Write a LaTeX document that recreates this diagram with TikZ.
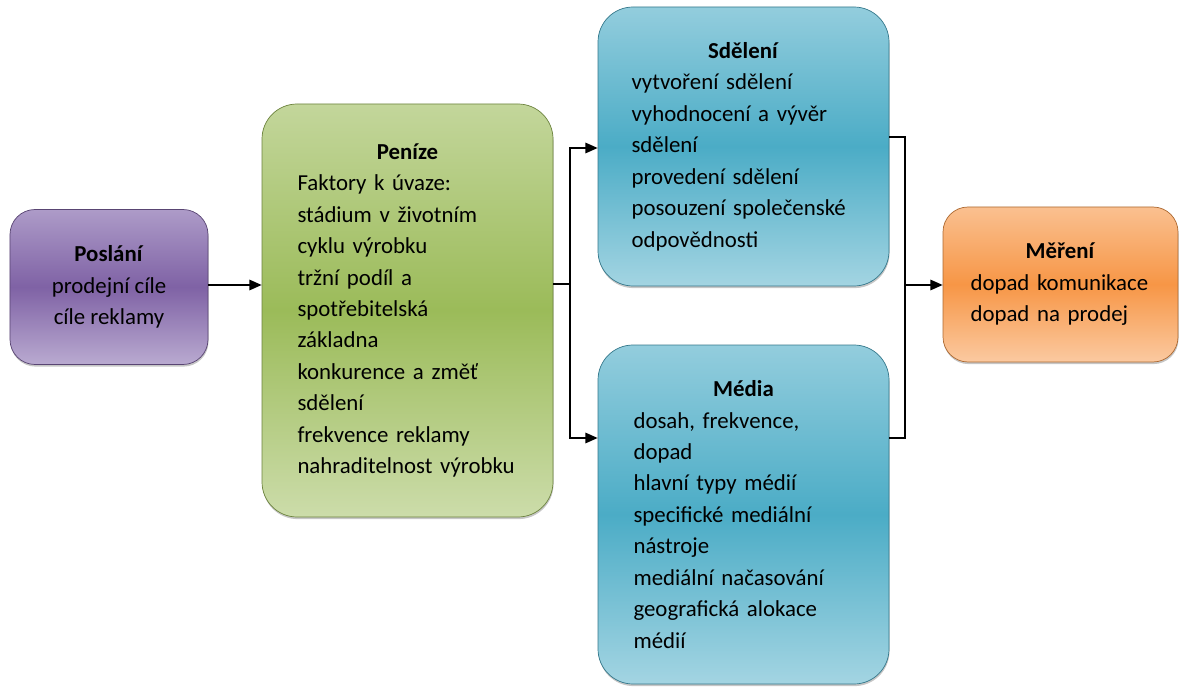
\documentclass[tikz,border=0pt]{standalone}
\usepackage{fontspec}
\setmainfont{Carlito}
\usetikzlibrary{arrows.meta,shadows}
\definecolor{lilaTop}{HTML}{AD9BC8}
\definecolor{lilaMid}{HTML}{7F62A5}
\definecolor{zelenaTop}{HTML}{C3D69B}
\definecolor{zelenaMid}{HTML}{9BBB59}
\definecolor{modraTop}{HTML}{93CDDD}
\definecolor{modraMid}{HTML}{4BACC6}
\definecolor{oranzTop}{HTML}{FAC090}
\definecolor{oranzMid}{HTML}{F79646}

\begin{document}
\begin{tikzpicture}[>={Triangle[length=7pt,width=6pt]}, line width=0.8pt,
  box/.style={rounded corners=0.7cm, draw=#1Mid!70!black, line width=0.4pt,
    top color=#1Top, bottom color=#1Top!85!white, middle color=#1Mid,
    drop shadow={shadow xshift=0.3pt, shadow yshift=-1.2pt, opacity=0.45},
    font=\fontsize{13}{17.9}\selectfont, text=black, inner sep=0pt},
  small box/.style={box=#1, rounded corners=0.5cm, minimum height=3.1cm},
  big box/.style={box=#1, minimum width=5.82cm, align=left}]
\useasboundingbox (0,0) rectangle (23.58,13.76);

\node[small box=lila, minimum width=3.96cm, align=center] (poslani) at (2.18,8.02)
  {\textbf{Poslání}\\prodejní cíle\\cíle reklamy};
\node[big box=zelena, minimum height=8.26cm, text width=4.4cm] (penize) at (8.15,7.55)
  {\makebox[\linewidth]{\textbf{Peníze}}\\Faktory k úvaze:\\stádium v životním\\cyklu výrobku\\tržní podíl a\\spotřebitelská\\základna\\konkurence a změť\\sdělení\\frekvence reklamy\\nahraditelnost výrobku};
\node[big box=modra, minimum height=5.58cm, text width=4.48cm] (sdeleni) at (14.87,10.83)
  {\makebox[\linewidth]{\textbf{Sdělení}}\\vytvoření sdělení\\vyhodnocení a vývěr\\sdělení\\provedení sdělení\\posouzení společenské\\odpovědnosti};
\node[big box=modra, minimum height=6.78cm, text width=4.4cm] (media) at (14.87,3.47)
  {\makebox[\linewidth]{\textbf{Média}}\\dosah, frekvence,\\dopad\\hlavní typy médií\\specifické mediální\\nástroje\\mediální načasování\\geografická alokace\\médií};
\node[small box=oranz, minimum width=4.70cm, text width=3.6cm, align=left] (mereni) at (21.21,8.07)
  {\makebox[\linewidth]{\textbf{Měření}}\\dopad komunikace\\dopad na prodej};

\coordinate (split) at (11.40,8.08);
\coordinate (join) at (18.10,8.06);

\draw[->] (poslani.east |- 0,8.06) -- (penize.west |- 0,8.06);
\draw (penize.east |- split) -- (split);
\draw[->] (split) |- (sdeleni.west |- 0,10.80);
\draw[->] (split) |- (media.west |- 0,5.00);
\draw (sdeleni.east |- 0,11.02) -| (join) |- (media.east |- 0,5.00);
\draw[->] (join) -- (mereni.west |- join);
\end{tikzpicture}
\end{document}
